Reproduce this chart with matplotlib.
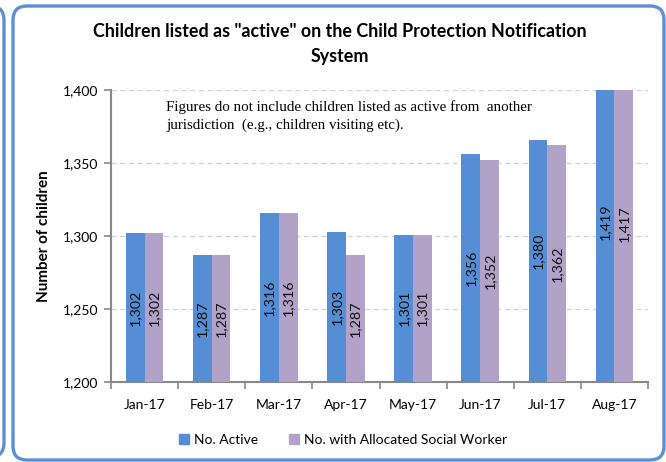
import numpy as np
import matplotlib
matplotlib.use("Agg")
import matplotlib.pyplot as plt
from matplotlib.patches import FancyBboxPatch, Patch

## data
months = ["Jan-17", "Feb-17", "Mar-17", "Apr-17", "May-17", "Jun-17", "Jul-17", "Aug-17"]
active = [1302, 1287, 1316, 1303, 1301, 1356, 1380, 1419]
allocated = [1302, 1287, 1316, 1287, 1301, 1352, 1362, 1417]
# bar heights as drawn in the source (Jul active bar is shorter than its label)
active_bar = [1302, 1287, 1316, 1303, 1301, 1356, 1366, 1419]
allocated_bar = [1302, 1287, 1316, 1287, 1301, 1352, 1362, 1417]
yticks = [1200, 1250, 1300, 1350, 1400]

blue = "#558ed5"
purple = "#b3a2c7"
sans = ["Lato", "DejaVu Sans"]
plt.rcParams['font.family'] = sans

fig = plt.figure(figsize=(6.66, 4.62), dpi=100)
ax = fig.add_axes([111/666, 1 - 382/462, (648-111)/666, (382-90)/462])

x = np.arange(len(months))
w = 0.28
b1 = ax.bar(x - w/2, np.array(active_bar) - 1200, w, bottom=1200, color=blue, zorder=3)
b2 = ax.bar(x + w/2, np.array(allocated_bar) - 1200, w, bottom=1200, color=purple, zorder=3)

# value labels, centred on the full value
for i in range(len(months)):
    ax.text(x[i] - w/2, (1200 + active[i]) / 2, f"{active[i]:,}", rotation=90,
            ha="center", va="center", fontsize=10.3, color="#111111", zorder=4)
    ax.text(x[i] + w/2, (1200 + allocated[i]) / 2, f"{allocated[i]:,}", rotation=90,
            ha="center", va="center", fontsize=10.3, color="#111111", zorder=4)

ax.set_xlim(-0.5, len(months) - 0.5)
ax.set_ylim(1200, 1400)
ax.set_yticks(yticks)
ax.set_yticklabels([f"{v:,}" for v in yticks], fontsize=10)
ax.set_xticks(np.arange(len(months) + 1) - 0.5)
ax.set_xticklabels([])
ax.set_xticks(x, minor=True)
ax.set_xticklabels(months, minor=True, fontsize=10)
ax.tick_params(axis="x", which="minor", length=0, pad=12)
ax.tick_params(axis="x", which="major", length=5, color="#888888", width=1.2)
ax.tick_params(axis="y", length=5, color="#888888", width=1.2, pad=4)

ax.grid(axis="y", color="#d0d0d0", linestyle=(0, (4, 3)), linewidth=0.9, zorder=0)
for s in ["top", "right"]:
    ax.spines[s].set_visible(False)
for s in ["left", "bottom"]:
    ax.spines[s].set_color("#888888")
    ax.spines[s].set_linewidth(1.5)

ax.set_ylabel("Number of children", fontsize=11, fontweight="bold", labelpad=9)

fig.text(340/666, 1 - 44/462, 'Children listed as "active" on the Child Protection Notification\nSystem',
         ha="center", va="center", fontsize=12.9, fontweight="bold", linespacing=1.55)

ax.text(166/666, 1 - 116/462, "Figures do not include children listed as active from  another\njurisdiction  (e.g., children visiting etc).",
        transform=fig.transFigure, ha="left", va="center", fontsize=10.8,
        family=["Liberation Serif"], linespacing=1.4, zorder=5)

handles = [Patch(color=blue, label="No. Active"),
           Patch(color=purple, label="No. with Allocated Social Worker")]
fig.legend(handles=handles, loc="center", bbox_to_anchor=(343/666, 1 - 440/462), ncol=2,
           frameon=False, fontsize=10, handlelength=0.7, handleheight=0.7,
           handletextpad=0.4, columnspacing=2.2)

# panel borders
fig.patches.append(FancyBboxPatch((0.13, 0.02), 6.51, 4.54,
                                  boxstyle="round,pad=0,rounding_size=0.14",
                                  transform=fig.dpi_scale_trans, fill=False,
                                  edgecolor="#5b8fd6", linewidth=2.4))
fig.patches.append(FancyBboxPatch((-3.0, 0.05), 3.04, 4.51,
                                  boxstyle="round,pad=0,rounding_size=0.14",
                                  transform=fig.dpi_scale_trans, fill=False,
                                  edgecolor="#5b8fd6", linewidth=2.4))

fig.savefig("out.png", dpi=100)
